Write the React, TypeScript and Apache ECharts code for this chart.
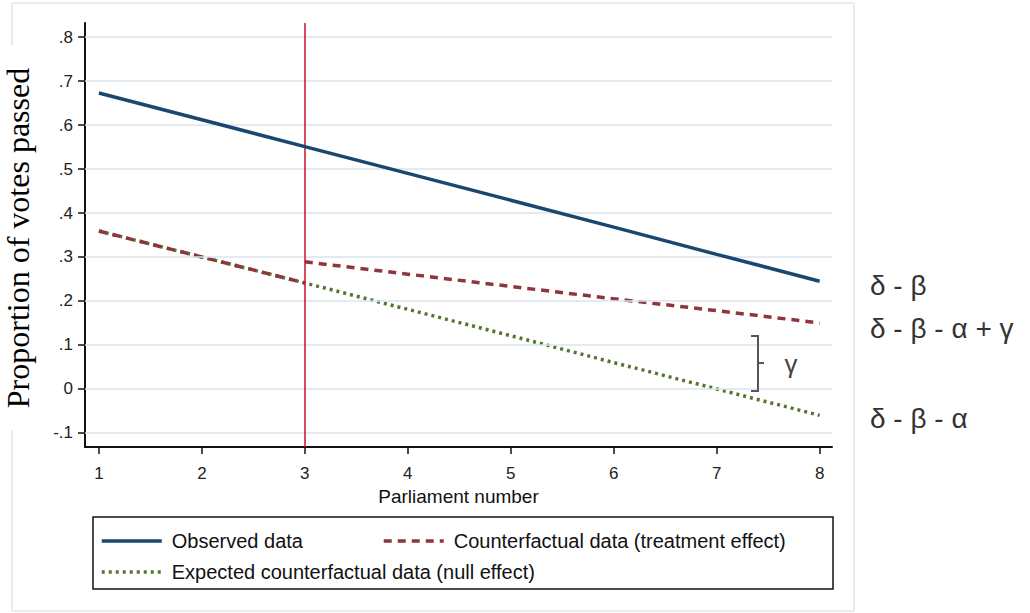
import React, { useEffect, useRef } from "react";
import * as echarts from "echarts";

const parliaments = [1, 2, 3, 4, 5, 6, 7, 8];
const observed = [0.673, 0.612, 0.551, 0.49, 0.429, 0.368, 0.306, 0.245];
const counterPre = [0.359, 0.3, 0.241];
const counterPostX = [3, 4, 5, 6, 7, 8];
const counterPost = [0.289, 0.261, 0.233, 0.205, 0.178, 0.15];
const expected = [0.359, 0.3, 0.241, 0.181, 0.121, 0.06, 0.0, -0.06];
const yTicks = [-0.1, 0, 0.1, 0.2, 0.3, 0.4, 0.5, 0.6, 0.7, 0.8];
const xTicks = [1, 2, 3, 4, 5, 6, 7, 8];
const treatmentStart = 3;
const names = [
  "Observed data",
  "Counterfactual data (treatment effect)",
  "Expected counterfactual data (null effect)",
];

const fmtY = (v: number) => {
  if (Math.abs(v) < 1e-9) return "0";
  const s = (Math.round(v * 10) / 10).toString();
  return s.replace("0.", ".");
};

export default function App() {
  const ref = useRef<HTMLDivElement>(null);
  useEffect(() => {
    if (!ref.current) return;
    const chart = echarts.init(ref.current, null, { renderer: "svg" });
    const counterData: any[] = parliaments
      .slice(0, counterPre.length)
      .map((x, i) => [x, counterPre[i]]);
    counterData.push([treatmentStart, "-"]);
    counterPostX.forEach((x, i) => counterData.push([x, counterPost[i]]));

    const frameColor = "#e3edf2";
    const legendBase = {
      orient: "horizontal",
      padding: 0,
      itemWidth: 60,
      itemHeight: 14,
      itemStyle: { opacity: 0 },
      lineStyle: { width: 3.5 },
      textStyle: {
        fontFamily: "Liberation Sans, Arial, sans-serif",
        fontSize: 20,
        color: "#111",
        padding: [0, 0, 0, 5],
      },
    };
    const greekStyle = {
      fontFamily: "Liberation Sans, Arial, sans-serif",
      fontSize: 28,
      fill: "#333",
    };

    chart.setOption({
      animation: false,
      backgroundColor: "#ffffff",
      grid: { left: 85, right: 198, top: 23, bottom: 166, containLabel: false },
      xAxis: {
        type: "value",
        min: 0.865,
        max: 8.12,
        name: "Parliament number",
        nameLocation: "middle",
        nameGap: 39,
        nameTextStyle: {
          fontFamily: "Liberation Sans, Arial, sans-serif",
          fontSize: 19,
          color: "#111",
        },
        axisLine: { show: true, onZero: false, lineStyle: { color: "#111", width: 2 } },
        axisTick: { show: true, length: 7, customValues: xTicks, lineStyle: { color: "#111", width: 1.5 } },
        axisLabel: {
          customValues: xTicks,
          margin: 18,
          fontFamily: "Liberation Sans, Arial, sans-serif",
          fontSize: 17,
          color: "#222",
        },
        splitLine: { show: false },
      },
      yAxis: {
        type: "value",
        min: -0.132,
        max: 0.832,
        axisLine: { show: true, onZero: false, lineStyle: { color: "#111", width: 2 } },
        axisTick: { show: true, length: 7, customValues: yTicks, lineStyle: { color: "#111", width: 1.5 } },
        axisLabel: {
          customValues: yTicks,
          margin: 12,
          formatter: (v: number) => fmtY(v),
          fontFamily: "Liberation Sans, Arial, sans-serif",
          fontSize: 17,
          color: "#222",
        },
        splitLine: { show: false },
      },
      legend: [
        { ...legendBase, left: 100, top: 531, data: [names[0]] },
        { ...legendBase, left: 382, top: 531, data: [names[1]] },
        { ...legendBase, left: 100, top: 562, data: [names[2]] },
      ],
      series: [
        {
          name: "grid",
          type: "line",
          data: [],
          silent: true,
          markLine: {
            silent: true,
            symbol: "none",
            label: { show: false },
            lineStyle: { color: "#d8e5ec", width: 1.5, type: "solid" },
            data: yTicks.map((v) => ({ yAxis: v })),
          },
          z: 1,
        },
        {
          name: names[2],
          type: "line",
          data: parliaments.map((x, i) => [x, expected[i]]),
          symbol: "none",
          lineStyle: { color: "#55752f", width: 3.5, type: [3, 4] },
          itemStyle: { color: "#55752f" },
          z: 3,
        },
        {
          name: names[1],
          type: "line",
          data: counterData,
          symbol: "none",
          connectNulls: false,
          lineStyle: { color: "#90353b", width: 3.5, type: [8, 6] },
          itemStyle: { color: "#90353b" },
          z: 4,
        },
        {
          name: names[0],
          type: "line",
          data: parliaments.map((x, i) => [x, observed[i]]),
          symbol: "none",
          lineStyle: { color: "#1a476f", width: 3.5, type: "solid" },
          itemStyle: { color: "#1a476f" },
          z: 5,
          markLine: {
            silent: true,
            symbol: "none",
            label: { show: false },
            lineStyle: { color: "#c8102e", width: 1.5, type: "solid" },
            data: [{ xAxis: treatmentStart }],
          },
        },
      ],
      graphic: [
        { type: "line", shape: { x1: 12, y1: 3, x2: 854, y2: 3 }, style: { stroke: frameColor, lineWidth: 2 } },
        { type: "line", shape: { x1: 854, y1: 3, x2: 854, y2: 611 }, style: { stroke: frameColor, lineWidth: 2 } },
        { type: "line", shape: { x1: 12, y1: 3, x2: 12, y2: 45 }, style: { stroke: frameColor, lineWidth: 2 } },
        { type: "line", shape: { x1: 12, y1: 430, x2: 12, y2: 611 }, style: { stroke: frameColor, lineWidth: 2 } },
        { type: "line", shape: { x1: 12, y1: 611, x2: 854, y2: 611 }, style: { stroke: frameColor, lineWidth: 2 } },
        {
          type: "text",
          x: 18,
          y: 238,
          rotation: Math.PI / 2,
          style: {
            text: "Proportion of votes passed",
            fontFamily: "Liberation Serif, Times New Roman, serif",
            fontSize: 32,
            fill: "#000",
            align: "center",
            verticalAlign: "middle",
          },
        },
        {
          type: "rect",
          shape: { x: 93, y: 517, width: 740, height: 72 },
          style: { fill: "none", stroke: "#111", lineWidth: 1.5 },
          z: 10,
        },
        {
          type: "polyline",
          shape: { points: [[751, 336], [758, 336], [758, 391], [751, 391]] },
          style: { stroke: "#555", lineWidth: 2, fill: "none" },
          z: 10,
        },
        {
          type: "line",
          shape: { x1: 758, y1: 363, x2: 764, y2: 363 },
          style: { stroke: "#555", lineWidth: 2 },
          z: 10,
        },
        {
          type: "text",
          x: 791,
          y: 364,
          style: {
            text: "γ",
            fontFamily: "Liberation Sans, Arial, sans-serif",
            fontSize: 26,
            fill: "#444",
            align: "center",
            verticalAlign: "middle",
            backgroundColor: "#fff",
            padding: [0, 2],
          },
          z: 10,
        },
        {
          type: "text",
          x: 870,
          y: 285,
          style: { ...greekStyle, text: "δ - β", align: "left", verticalAlign: "middle" },
        },
        {
          type: "text",
          x: 870,
          y: 328,
          style: { ...greekStyle, text: "δ - β - α + γ", align: "left", verticalAlign: "middle" },
        },
        {
          type: "text",
          x: 870,
          y: 418,
          style: { ...greekStyle, text: "δ - β - α", align: "left", verticalAlign: "middle" },
        },
      ],
    });
    return () => chart.dispose();
  }, []);
  return (
    <div
      ref={ref}
      style={{ position: "absolute", left: 0, top: 0, width: 1030, height: 613 }}
    />
  );
}
